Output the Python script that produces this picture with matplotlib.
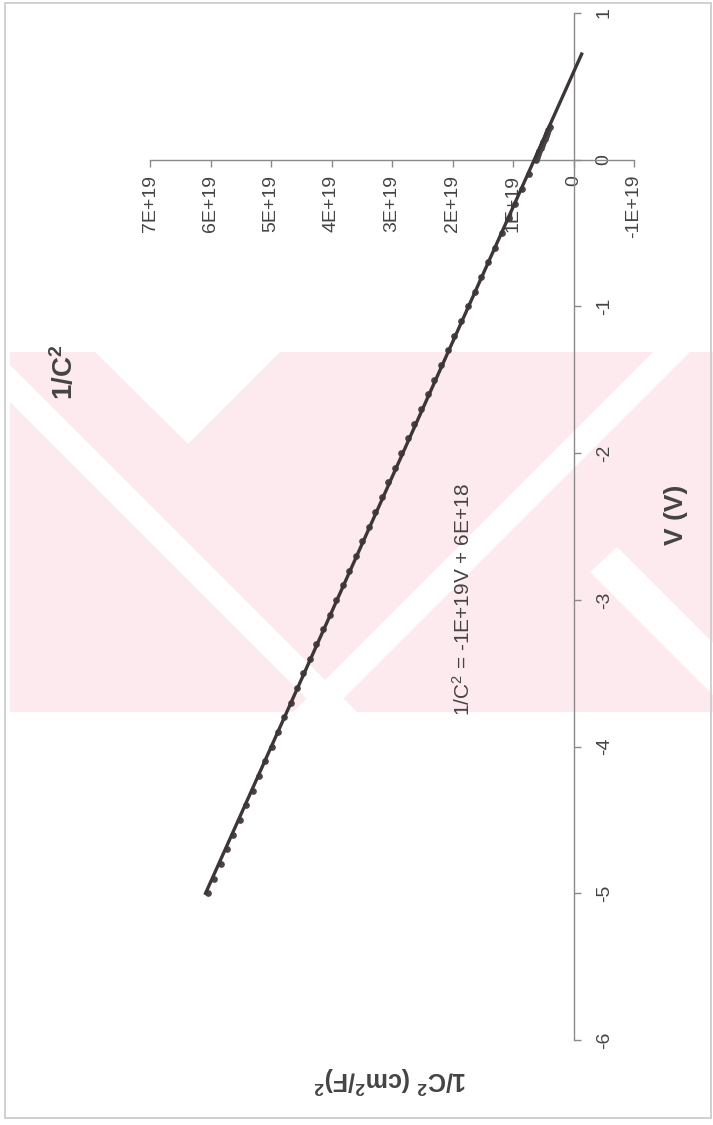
import numpy as np
import matplotlib
matplotlib.use('Agg')
from matplotlib import pyplot as plt
from matplotlib.patches import Polygon, Rectangle

plt.rcParams['font.family'] = ['Liberation Sans', 'DejaVu Sans']
plt.rcParams['mathtext.fontset'] = 'custom'
plt.rcParams['mathtext.rm'] = 'Liberation Sans'
plt.rcParams['mathtext.bf'] = 'Liberation Sans:bold'
plt.rcParams['mathtext.default'] = 'regular'

# bias voltage (V)
v = [-5.0, -4.9, -4.8, -4.7, -4.6, -4.5, -4.4, -4.3, -4.2, -4.1,
     -4.0, -3.9, -3.8, -3.7, -3.6, -3.5, -3.4, -3.3, -3.2, -3.1,
     -3.0, -2.9, -2.8, -2.7, -2.6, -2.5, -2.4, -2.3, -2.2, -2.1,
     -2.0, -1.9, -1.8, -1.7, -1.6, -1.5, -1.4, -1.3, -1.2, -1.1,
     -1.0, -0.9, -0.8, -0.7, -0.6, -0.5, -0.4, -0.3, -0.2, -0.1,
     0.0, 0.02, 0.04, 0.06, 0.08, 0.10, 0.12, 0.14, 0.16, 0.18,
     0.20, 0.22]
# 1/C^2 in units of 1E+19 (cm^2/F)^2
inv_c2 = [6.040, 5.935, 5.830, 5.725, 5.620, 5.515, 5.410, 5.305, 5.200, 5.095,
          4.990, 4.885, 4.780, 4.675, 4.570, 4.465, 4.357, 4.249, 4.141, 4.033,
          3.925, 3.817, 3.709, 3.601, 3.493, 3.385, 3.277, 3.169, 3.061, 2.953,
          2.845, 2.737, 2.629, 2.521, 2.413, 2.305, 2.193, 2.081, 1.969, 1.857,
          1.745, 1.633, 1.521, 1.409, 1.297, 1.185, 1.073, 0.961, 0.849, 0.737,
          0.625, 0.605, 0.584, 0.563, 0.542, 0.521, 0.500, 0.479, 0.458, 0.437,
          0.416, 0.395]

xticks = [7e19, 6e19, 5e19, 4e19, 3e19, 2e19, 1e19, 0, -1e19]
xlabels = ['7E+19', '6E+19', '5E+19', '4E+19', '3E+19', '2E+19', '1E+19', '0', '-1E+19']
yticks = [-6, -5, -4, -3, -2, -1, 0, 1]
ylabels = ['-6', '-5', '-4', '-3', '-2', '-1', '0', '1']
eq_text = '1/C$^{2}$ = -1E+19V + 6E+18'

W, H = 713, 1125


def px(x, y):
    return (x / W, 1 - y / H)


fig = plt.figure(figsize=(W / 100, H / 100), dpi=100)

# background watermark
pink = '#fdeaee'
fig.patches.append(Polygon([px(10, 352), px(713, 352), px(713, 712), px(10, 712)],
                           closed=True, transform=fig.transFigure,
                           facecolor=pink, edgecolor='none', zorder=-3))
white_shapes = [
    [(95, 352), (280, 352), (188, 444)],
    [(10, 365), (357, 712), (320, 712), (10, 402)],
    [(653, 352), (690, 352), (330, 712), (293, 712)],
    [(617, 547), (713, 643), (713, 695), (590, 572)],
]
for shp in white_shapes:
    fig.patches.append(Polygon([px(a, b) for a, b in shp], closed=True,
                               transform=fig.transFigure, facecolor='white',
                               edgecolor='none', zorder=-2))

# page frame
fig.patches.append(Rectangle(px(5, 1118), (711 - 5) / W, (1118 - 3) / H,
                             transform=fig.transFigure, fill=False,
                             edgecolor='#c8c8c8', linewidth=1.2, zorder=-1))

ax = fig.add_axes([150 / W, 1 - 1040 / H, (634 - 150) / W, (1040 - 13) / H])
ax.set_zorder(1)
ax.patch.set_alpha(0)

vv = np.array(v)
yy = np.array(inv_c2) * 1e19
ax.plot(yy, vv, 'o', color='#4a4244', markersize=3.8, zorder=3)

# linear trendline, forecast 0.5 V forward
fit = np.polyfit(vv, yy, 1)
vt = np.array([vv.min(), vv.max() + 0.5])
ax.plot(np.polyval(fit, vt), vt, '-', color='#3c3638', linewidth=2.4, zorder=4)

ax.set_xlim(7e19, -1e19)
ax.set_ylim(-6, 1)

for s in ['top', 'left']:
    ax.spines[s].set_visible(False)
ax.spines['bottom'].set_position(('data', 0))
ax.spines['right'].set_position(('data', 0))
for s in ['bottom', 'right']:
    ax.spines[s].set_color('#8a8a8a')
    ax.spines[s].set_linewidth(1.0)
    ax.spines[s].set_zorder(2)

ax.yaxis.tick_right()
ax.set_xticks(xticks)
ax.set_xticklabels(xlabels, rotation=90)
ax.set_yticks(yticks)
ax.set_yticklabels(ylabels, rotation=90, va='center')
ax.tick_params(axis='both', direction='out', length=5, width=1.0,
               color='#8a8a8a', labelsize=14, labelcolor='#444444')
ax.tick_params(axis='x', pad=6)
ax.tick_params(axis='y', pad=11)

fig.text(*px(65, 372), r'1/C$\mathbf{^{2}}$', rotation=90, ha='center', va='center',
         fontsize=20, fontweight='bold', color='#444444')
fig.text(*px(676, 515), 'V (V)', rotation=90, ha='center', va='center',
         fontsize=19, fontweight='bold', color='#444444')
fig.text(*px(390, 1080), r'1/C$\mathbf{^{2}}$ (cm$\mathbf{^{2}}$/F)$\mathbf{^{2}}$',
         rotation=180, ha='center', va='center',
         fontsize=18, fontweight='bold', color='#444444')
fig.text(*px(463, 600), eq_text, rotation=90, ha='center', va='center',
         fontsize=15, color='#444444')

fig.savefig('out.png', dpi=100)
